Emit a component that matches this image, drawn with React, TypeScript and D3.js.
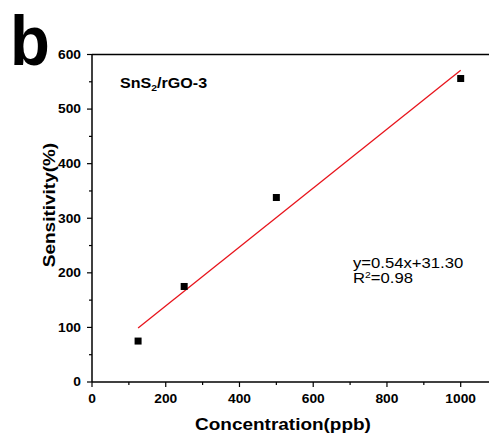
import React from 'react';
import * as d3 from 'd3';

const concentration = [125, 250, 500, 1000];
const sensitivity = [75, 175, 338, 556];
const fitSlope = 0.54;
const fitIntercept = 31.3;
const xTicks = [0, 200, 400, 600, 800, 1000];
const yTicks = [0, 100, 200, 300, 400, 500, 600];

const W = 489;
const H = 434;
const left = 92;
const top = 54.5;
const bottom = 382;
const sx = 1.15; // the source figure's text is a bit wider than Arial

const font = 'Liberation Sans, Arial, sans-serif';

export default function App() {
  const x = d3.scaleLinear().domain([0, 1000]).range([left, 460.7]);
  const y = d3.scaleLinear().domain([0, 600]).range([bottom, top]);

  const xMinor = d3.range(100, 1100, 200);
  const yMinor = d3.range(50, 600, 100);

  const fitX = [d3.min(concentration)!, d3.max(concentration)!];
  const fitLine = d3
    .line<number>()
    .x((d) => x(d))
    .y((d) => y(fitSlope * d + fitIntercept));

  const at = (px: number, py: number) => `translate(${px},${py}) scale(${sx},1)`;

  return (
    <svg
      width={W}
      height={H}
      style={{ position: 'absolute', left: 0, top: 0, background: '#fff' }}
      fontFamily={font}
    >
      <text transform="translate(10,65) scale(0.92,1)" fontSize={71} fontWeight="bold">b</text>

      {/* frame */}
      <line x1={left} x2={W} y1={top} y2={top} stroke="#000" strokeWidth={1.5} />
      <line x1={left} x2={left} y1={top} y2={bottom} stroke="#000" strokeWidth={1.5} />
      <line x1={left} x2={W} y1={bottom} y2={bottom} stroke="#000" strokeWidth={1.5} />

      {/* y ticks */}
      {yTicks.map((t) => (
        <g key={'y' + t}>
          <line x1={left - 5} x2={left} y1={y(t)} y2={y(t)} stroke="#000" strokeWidth={1.2} />
          <text transform={at(81, y(t) + 4.3)} fontSize={12} fontWeight="bold" textAnchor="end">{t}</text>
        </g>
      ))}
      {yMinor.map((t) => (
        <line key={'ym' + t} x1={left - 3} x2={left} y1={y(t)} y2={y(t)} stroke="#000" strokeWidth={1.2} />
      ))}

      {/* x ticks */}
      {xTicks.map((t) => (
        <g key={'x' + t}>
          <line x1={x(t)} x2={x(t)} y1={bottom} y2={bottom + 5} stroke="#000" strokeWidth={1.2} />
          <text transform={at(x(t), 403)} fontSize={12} fontWeight="bold" textAnchor="middle">{t}</text>
        </g>
      ))}
      {xMinor.map((t) => (
        <line key={'xm' + t} x1={x(t)} x2={x(t)} y1={bottom} y2={bottom + 3} stroke="#000" strokeWidth={1.2} />
      ))}

      <text transform={at(283, 430)} fontSize={16.5} fontWeight="bold" textAnchor="middle">
        Concentration(ppb)
      </text>
      <text
        transform={`translate(55,205) rotate(-90) scale(${sx},1)`}
        fontSize={16.5}
        fontWeight="bold"
        textAnchor="middle"
      >
        Sensitivity(%)
      </text>

      <text transform={at(120, 88)} fontSize={14} fontWeight="bold">
        SnS<tspan fontSize={9} dy={3}>2</tspan><tspan dy={-3}>/rGO-3</tspan>
      </text>

      <path d={fitLine(fitX) ?? ''} fill="none" stroke="#e8141c" strokeWidth={1.3} />

      {concentration.map((c, i) => (
        <rect
          key={'p' + i}
          x={x(c) - 3.5}
          y={y(sensitivity[i]) - 3.5}
          width={7}
          height={7}
          fill="#000"
        />
      ))}

      <text transform={at(353, 268)} fontSize={14.5}>y=0.54x+31.30</text>
      <text transform={at(353, 283)} fontSize={14.5}>
        R<tspan fontSize={9} dy={-5}>2</tspan><tspan dy={5}>=0.98</tspan>
      </text>
    </svg>
  );
}
